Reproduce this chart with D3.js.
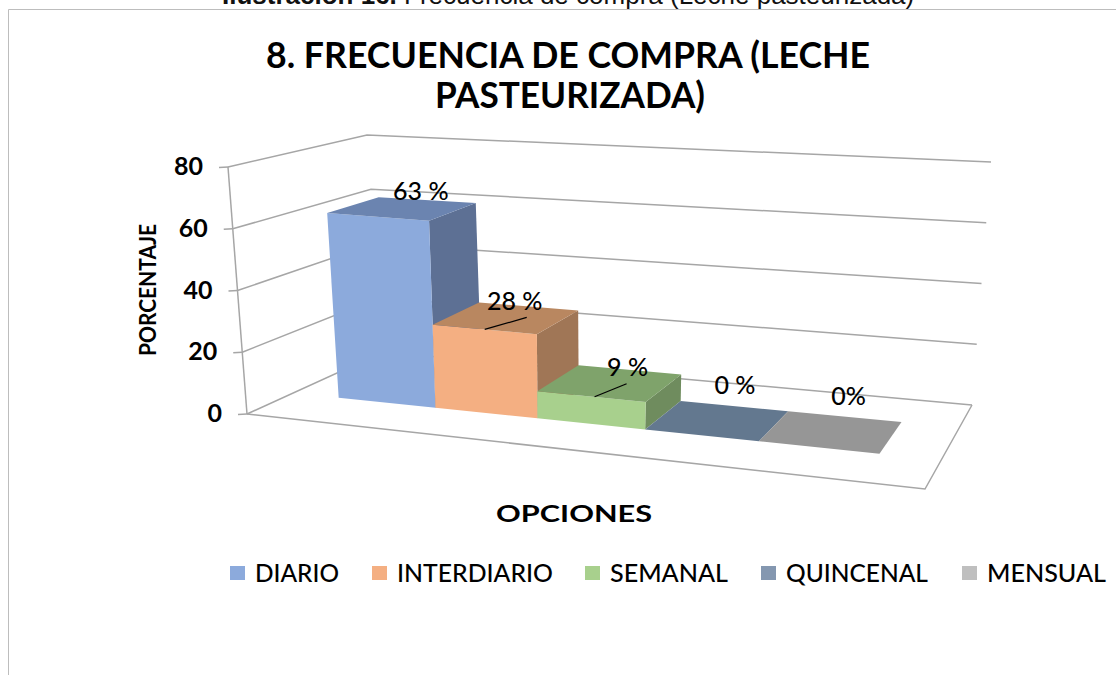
<!DOCTYPE html>
<html><head><meta charset="utf-8">
<style>html,body{margin:0;padding:0;background:#fff;overflow:hidden}svg{display:block}</style>
<script src="https://cdnjs.cloudflare.com/ajax/libs/d3/7.8.5/d3.min.js"></script>
</head><body><svg id="c" width="1116" height="675"></svg>
<script>
const categories = ["DIARIO","INTERDIARIO","SEMANAL","QUINCENAL","MENSUAL"];
const values = [63,28,9,0,0];
const valueLabels = ["63 %","28 %","9 %","0 %","0%"];
const yTicks = [0,20,40,60,80];
const frontColors = ["#8CAADC","#F4AF82","#A8D08D","#8497B0","#BFBFBF"];
const topColors = ["#6B84B0","#B98760","#7FA36B","#63788F","#969696"];
const sideColors = ["#5D7094","#A07656","#6F8C5E","#566880","#808080"];

const svg = d3.select("#c");
const FONT = "Lato, 'Open Sans', sans-serif";

// perspective frame: floor plane corners on the page
const A=[247,414],B=[925,489],C=[972,405],D=[383,352];
const rise={fl:[-19,-247],fr:[22,-262],br:[19,-243],bl:[-16,-217]};
const dx1=B[0]-C[0],dy1=B[1]-C[1],dx2=D[0]-C[0],dy2=D[1]-C[1];
const sx=A[0]-B[0]+C[0]-D[0],sy=A[1]-B[1]+C[1]-D[1];
const den=dx1*dy2-dx2*dy1;
const g=(sx*dy2-dx2*sy)/den,h=(dx1*sy-sx*dy1)/den;
const a=B[0]-A[0]+g*B[0],b=D[0]-A[0]+h*D[0],d=B[1]-A[1]+g*B[1],e=D[1]-A[1]+h*D[1];

const yScale=d3.scaleLinear().domain([0,80]).range([0,1]);
const barScale=d3.scaleLinear().domain([0,80]).range([0,0.98]);
const xBand=d3.scaleBand().domain(categories).range([0.082,0.918]).padding(0);
const depth=[0.305,0.695];

function project(u,v,val,scale=yScale){
  const w=g*u+h*v+1;
  const px=(a*u+b*v+A[0])/w, py=(d*u+e*v+A[1])/w;
  const t=scale(val);
  const wt=[(1-u)*(1-v),u*(1-v),u*v,(1-u)*v];
  const r=[rise.fl,rise.fr,rise.br,rise.bl];
  const rx=d3.sum(r,(q,i)=>q[0]*wt[i]), ry=d3.sum(r,(q,i)=>q[1]*wt[i]);
  return [px+rx*t,py+ry*t];
}
const line=d3.line();
const GRID="#A6A6A6";

// chart frame and caption
svg.append("path").attr("d","M8.5,675V9.5H1116").attr("fill","none").attr("stroke","#BDBDBD").attr("stroke-width",1);
const cap=svg.append("text").attr("x",222).attr("y",4).attr("font-family","'Liberation Sans',sans-serif").attr("font-size",26).attr("fill","#111");
cap.append("tspan").attr("font-weight",700).text("Ilustración 16.");
cap.append("tspan").text(" Frecuencia de compra (Leche pasteurizada)");

// title
[["8. FRECUENCIA DE COMPRA (LECHE",266,604,68],["PASTEURIZADA)",435,270,108]].forEach(t=>{
  svg.append("text").attr("x",t[1]).attr("y",t[3]).attr("textLength",t[2]).attr("lengthAdjust","spacingAndGlyphs")
    .attr("font-family",FONT).attr("font-weight",700).attr("font-size",36).attr("fill","#000").text(t[0]);
});

// walls and gridlines
yTicks.forEach(v=>{
  const p=[project(0,0,v),project(0,1,v),project(1,1,v)];
  const tick=[[p[0][0]-9,p[0][1]+0.5],p[0]];
  svg.append("path").attr("d",line(tick)).attr("fill","none").attr("stroke",GRID).attr("stroke-width",1.5);
  svg.append("path").attr("d",line(p)).attr("fill","none").attr("stroke",GRID).attr("stroke-width",1.5);
  svg.append("text").attr("x",p[0][0]-25).attr("y",p[0][1]+8).attr("text-anchor","end")
    .attr("font-family",FONT).attr("font-weight",700).attr("font-size",25).attr("fill","#000").text(v);
});
svg.append("path").attr("d",line([project(0,0,0),project(0,0,80)])).attr("fill","none").attr("stroke",GRID).attr("stroke-width",1.5);
svg.append("path").attr("d",line([project(0,0,0),project(1,0,0),project(1,1,0)])).attr("fill","none").attr("stroke",GRID).attr("stroke-width",1.5);

// bars
const poly=pts=>line(pts)+"Z";
categories.forEach((c,i)=>{
  const u0=xBand(c),u1=u0+xBand.bandwidth(),v0=depth[0],v1=depth[1],val=values[i];
  const P=(u,v,y)=>project(u,v,y,barScale);
  const G=svg.append("g");
  if(val>0){
    G.append("path").attr("d",poly([P(u1,v0,0),P(u1,v1,0),P(u1,v1,val),P(u1,v0,val)])).attr("fill",sideColors[i]);
    G.append("path").attr("d",poly([P(u0,v0,0),P(u1,v0,0),P(u1,v0,val),P(u0,v0,val)])).attr("fill",frontColors[i]);
  }
  G.append("path").attr("d",poly([P(u0,v0,val),P(u1,v0,val),P(u1,v1,val),P(u0,v1,val)])).attr("fill",topColors[i]);
});

// data labels and leader lines
const labelDx=[18,8,17,17,17], labelDy=[-8,-7,-7,-26,-26];
const leaders=[null,[[-22,12],[20,0]],[[-16,14],[16,1]],null,null];
categories.forEach((c,i)=>{
  const m=project(xBand(c)+xBand.bandwidth()/2,0.5,values[i],barScale);
  svg.append("text").attr("x",m[0]+labelDx[i]).attr("y",m[1]+labelDy[i]).attr("text-anchor","middle")
    .attr("font-family",FONT).attr("font-weight",500).attr("font-size",25).attr("fill","#000").text(valueLabels[i]);
  if(leaders[i]) svg.append("path").attr("d",line(leaders[i].map(o=>[m[0]+o[0],m[1]+o[1]]))).attr("stroke","#000").attr("stroke-width",1.2).attr("fill","none");
});

// axis titles
svg.append("text").attr("x",574).attr("y",522).attr("text-anchor","middle").attr("textLength",156).attr("lengthAdjust","spacingAndGlyphs")
  .attr("font-family",FONT).attr("font-weight",700).attr("font-size",23).text("OPCIONES");
svg.append("text").attr("transform","translate(156,290) rotate(-90)").attr("text-anchor","middle").attr("textLength",132).attr("lengthAdjust","spacingAndGlyphs")
  .attr("font-family",FONT).attr("font-weight",700).attr("font-size",23).text("PORCENTAJE");

// legend
const legendX=[230,372,585,761,962], legendW=[84,156,118,142,119];
categories.forEach((c,i)=>{
  svg.append("rect").attr("x",legendX[i]).attr("y",566).attr("width",15).attr("height",14).attr("fill",frontColors[i]);
  svg.append("text").attr("x",legendX[i]+25).attr("y",582).attr("textLength",legendW[i]).attr("lengthAdjust","spacingAndGlyphs")
    .attr("font-family",FONT).attr("font-weight",500).attr("font-size",25).attr("fill","#000").text(c);
});
</script></body></html>
